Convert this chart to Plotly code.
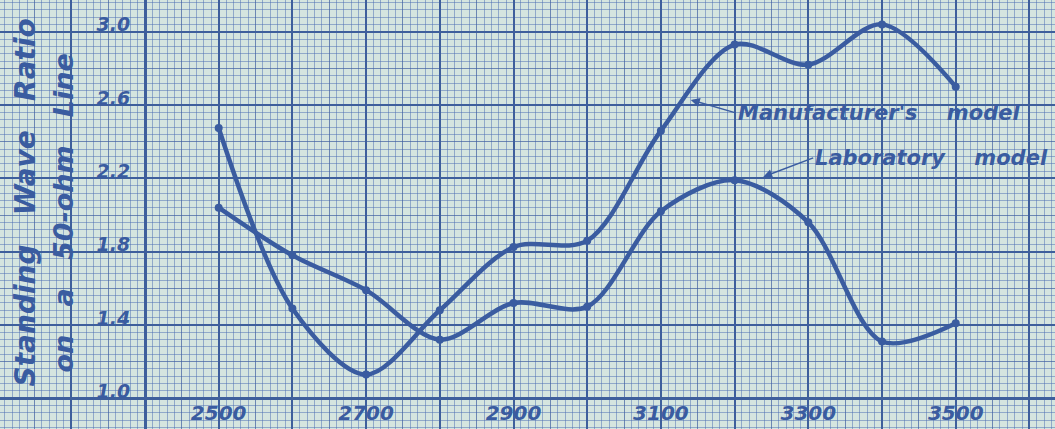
import plotly.graph_objects as go

# ---- data ----
freq = [2500, 2600, 2700, 2800, 2900, 3000, 3100, 3200, 3300, 3400, 3500]
manufacturer = [2.475, 1.49, 1.13, 1.48, 1.825, 1.86, 2.46, 2.93, 2.82, 3.04, 2.70]
laboratory = [2.04, 1.78, 1.59, 1.32, 1.52, 1.50, 2.02, 2.19, 1.96, 1.31, 1.41]

x_tickvals = [2200, 2300, 2400, 2500, 2600, 2700, 2800, 2900, 3000, 3100, 3200, 3300, 3400, 3500, 3600]
x_ticktext = ["", "", "", "2500", "", "2700", "", "2900", "", "3100", "", "3300", "", "3500", ""]
y_tickvals = [1.0, 1.4, 1.8, 2.2, 2.6, 3.0]
y_ticktext = ["1.0", "1.4", "1.8", "2.2", "2.6", "3.0"]

XR = [2203.3, 3634.7]
YR = [0.8325, 3.173]

INK = "#3a5ca0"
MAJOR = "#3e5f9c"
MEDIUM = "rgba(62,95,160,0.7)"
FINE = "rgba(75,110,180,0.5)"
BG = "#d5e5df"

fnt = dict(family="DejaVu Sans", color=INK, style="italic", weight="bold")

fig = go.Figure()
# empty trace so the base (fine-grid) subplot is drawn
fig.add_trace(go.Scatter(x=[], y=[], xaxis="x", yaxis="y", showlegend=False, hoverinfo="skip"))
for name, ys in [("Manufacturer's model", manufacturer), ("Laboratory model", laboratory)]:
    fig.add_trace(go.Scatter(
        x=freq, y=ys, name=name, mode="lines+markers",
        line=dict(color=INK, width=4.5, shape="spline", smoothing=0.9),
        marker=dict(color=INK, size=8),
        xaxis="x2", yaxis="y2", showlegend=False, hoverinfo="x+y+name"))

fig.update_layout(
    width=1055, height=429,
    margin=dict(l=0, r=0, t=0, b=0),
    paper_bgcolor=BG, plot_bgcolor=BG,
    xaxis=dict(range=XR, domain=[0, 1], tick0=2400, dtick=50, showgrid=True,
               gridcolor=MEDIUM, gridwidth=1.3, zeroline=False, showticklabels=False,
               ticks="", fixedrange=True,
               minor=dict(dtick=10, tick0=2400, showgrid=True, gridcolor=FINE, gridwidth=1)),
    yaxis=dict(range=YR, domain=[0, 1], tick0=1.0, dtick=0.2, showgrid=True,
               gridcolor=MEDIUM, gridwidth=1.3, zeroline=False, showticklabels=False,
               ticks="", fixedrange=True,
               minor=dict(dtick=0.04, tick0=1.0, showgrid=True, gridcolor=FINE, gridwidth=1)),
    xaxis2=dict(range=XR, overlaying="x", anchor="free", position=30.7 / 429,
                tickmode="array", tickvals=x_tickvals, ticktext=x_ticktext,
                showgrid=True, gridcolor=MAJOR, gridwidth=2.2, zeroline=False,
                showline=True, linecolor=MAJOR, linewidth=3, ticks="",
                ticklabelstandoff=-4,
                tickfont=dict(size=20, **fnt)),
    yaxis2=dict(range=YR, overlaying="y", anchor="free", position=145 / 1055, side="left",
                tickmode="array", tickvals=y_tickvals, ticktext=y_ticktext,
                showgrid=True, gridcolor=MAJOR, gridwidth=2.2, zeroline=False,
                showline=True, linecolor=MAJOR, linewidth=3, ticks="",
                ticklabelstandoff=10, ticklabelshift=-7,
                tickfont=dict(size=19, **fnt)),
)

# axis titles (two rotated lines)
fig.add_annotation(xref="paper", yref="paper", x=25 / 1055, y=1 - 202.5 / 429,
                   text="Standing   Wave   Ratio", textangle=-90, showarrow=False,
                   font=dict(size=28, **fnt), xanchor="center", yanchor="middle")
fig.add_annotation(xref="paper", yref="paper", x=63 / 1055, y=1 - 213.5 / 429,
                   text="on   a   50-ohm   Line", textangle=-90, showarrow=False,
                   font=dict(size=27, **fnt), xanchor="center", yanchor="middle")

# curve labels with leaders
fig.add_annotation(xref="x2", yref="y2", x=3140.5, y=2.628, ax=45, ay=13,
                   text="Manufacturer's    model", showarrow=True, arrowhead=2,
                   arrowsize=1.2, arrowwidth=1.5, arrowcolor=INK, xanchor="left",
                   font=dict(size=21, **fnt))
fig.add_annotation(xref="x2", yref="y2", x=3238.8, y=2.208, ax=50, ay=-19,
                   text="Laboratory    model", showarrow=True, arrowhead=2,
                   arrowsize=1.2, arrowwidth=1.5, arrowcolor=INK, xanchor="left",
                   font=dict(size=21, **fnt))

fig.write_html("out.html", config={"displayModeBar": False},
               post_script="document.body.style.margin='0';")
